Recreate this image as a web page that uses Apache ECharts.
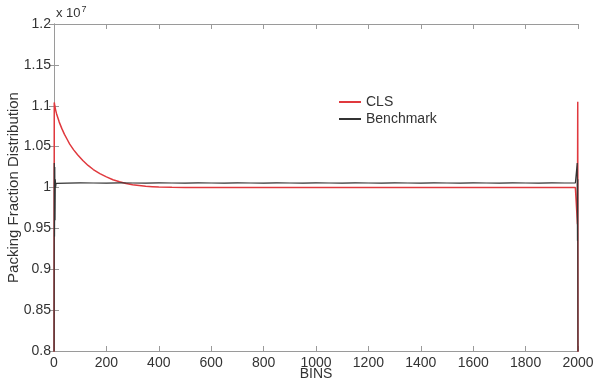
<!DOCTYPE html>
<html>
<head>
<meta charset="utf-8">
<script src="https://cdn.jsdelivr.net/npm/echarts@6/dist/echarts.min.js"></script>
<style>html,body{margin:0;padding:0;background:#fff;}#c{width:595px;height:381px;}</style>
</head>
<body>
<div id="c"></div>
<script>
// Bin positions and values (values in units of 1e7)
var clsBins = [0, 1, 3, 6, 10, 15, 20, 30, 40, 50, 60, 75, 90, 110, 130, 150, 175, 200, 225, 250, 275, 300, 325, 350, 375, 400, 450, 500, 600, 700, 800, 900, 1000, 1100, 1200, 1300, 1400, 1500, 1600, 1700, 1800, 1900, 1990, 1995, 1997, 1998, 1999, 2000];
var clsValues = [0.75, 1.104, 1.100, 1.095, 1.090, 1.085, 1.080, 1.072, 1.065, 1.059, 1.053, 1.046, 1.040, 1.033, 1.027, 1.022, 1.017, 1.013, 1.0095, 1.007, 1.005, 1.0035, 1.0025, 1.0015, 1.001, 1.0005, 1.0002, 1.0001, 1.0000, 1.0001, 0.9999, 1.0000, 1.0001, 1.0000, 0.9999, 1.0000, 1.0001, 1.0000, 0.9999, 1.0000, 1.0001, 1.0000, 0.9999, 0.999, 0.998, 0.955, 1.105, 0.75];

var benchBins = [0, 1, 2, 3, 4, 5, 6, 8, 10, 50, 100, 150, 200, 250, 300, 350, 400, 450, 500, 550, 600, 650, 700, 750, 800, 850, 900, 950, 1000, 1050, 1100, 1150, 1200, 1250, 1300, 1350, 1400, 1450, 1500, 1550, 1600, 1650, 1700, 1750, 1800, 1850, 1900, 1950, 1990, 1996, 1997, 1998, 1999, 2000];
var benchValues = [0.75, 1.03, 0.94, 1.025, 0.96, 1.01, 1.0, 1.005, 1.0055, 1.0054, 1.0056, 1.0055, 1.0054, 1.0056, 1.0055, 1.0054, 1.0056, 1.0055, 1.0054, 1.0056, 1.0055, 1.0054, 1.0056, 1.0055, 1.0054, 1.0056, 1.0055, 1.0054, 1.0056, 1.0055, 1.0054, 1.0056, 1.0055, 1.0054, 1.0056, 1.0055, 1.0054, 1.0056, 1.0055, 1.0054, 1.0056, 1.0055, 1.0054, 1.0056, 1.0055, 1.0054, 1.0056, 1.0055, 1.0055, 1.006, 1.03, 0.935, 1.01, 0.75];

var scale = 1e7;
var yTickLabels = ['0.8', '0.85', '0.9', '0.95', '1', '1.05', '1.1', '1.15', '1.2'];

function pairs(b, v) { return b.map(function (x, i) { return [x, v[i] * scale]; }); }

var chart = echarts.init(document.getElementById('c'), null, {renderer: 'canvas'});
var axisColor = '#9a9a9a';
var txt = '#333';
var font = 'Liberation Sans, Arial, sans-serif';
var yLabelMap = {};
yTickLabels.forEach(function (s) { yLabelMap[Math.round(parseFloat(s) * 100)] = s; });
var red = '#e0393e', dark = '#333';

chart.setOption({
  animation: false,
  backgroundColor: '#fff',
  grid: {left: 54, right: 17, top: 24, bottom: 30, show: false, containLabel: false, outerBoundsMode: 'none'},
  legend: {
    orient: 'vertical', left: 334, top: 90, itemGap: 3, itemWidth: 22, itemHeight: 2,
    icon: 'rect',
    textStyle: {fontFamily: font, fontSize: 14, color: txt},
    data: [{name: 'CLS', icon: 'rect', itemStyle: {color: red}}, {name: 'Benchmark', icon: 'rect', itemStyle: {color: dark}}]
  },
  xAxis: [{
    type: 'value', min: 0, max: 2000, interval: 200,
    name: 'BINS', nameLocation: 'middle', nameGap: 16, nameMoveOverlap: false,
    nameTextStyle: {fontFamily: font, fontSize: 14, color: txt},
    axisLine: {show: true, lineStyle: {color: axisColor, width: 1}},
    axisTick: {show: true, inside: true, length: 5, lineStyle: {color: axisColor}},
    axisLabel: {fontFamily: font, fontSize: 14, color: txt, margin: 5,
      formatter: function (v) { return String(v); }},
    splitLine: {show: false}
  }, {
    type: 'value', min: 0, max: 2000, interval: 200, position: 'top',
    axisLine: {show: true, lineStyle: {color: axisColor, width: 1}},
    axisTick: {show: true, inside: true, length: 5, lineStyle: {color: axisColor}},
    axisLabel: {show: false}, splitLine: {show: false}
  }],
  yAxis: [{
    type: 'value', min: 0.8 * scale, max: 1.2 * scale, interval: 0.05 * scale,
    name: 'Packing Fraction Distribution', nameLocation: 'middle', nameGap: 33, nameMoveOverlap: false,
    nameTextStyle: {fontFamily: font, fontSize: 15, color: txt},
    axisLine: {show: true, lineStyle: {color: axisColor, width: 1}},
    axisTick: {show: true, inside: true, length: 5, lineStyle: {color: axisColor}},
    axisLabel: {fontFamily: font, fontSize: 14, color: txt, margin: 3,
      formatter: function (v) { return yLabelMap[Math.round(v / scale * 100)] || ''; }},
    splitLine: {show: false}
  }, {
    type: 'value', min: 0.8 * scale, max: 1.2 * scale, interval: 0.05 * scale, position: 'right',
    axisLine: {show: true, lineStyle: {color: axisColor, width: 1}},
    axisTick: {show: true, inside: true, length: 5, lineStyle: {color: axisColor}},
    axisLabel: {show: false}, splitLine: {show: false}
  }],
  graphic: [{
    type: 'text', left: 56, top: 5,
    style: {
      text: '{a|x 10}{b|7}',
      rich: {
        a: {fontFamily: font, fontSize: 13, fill: txt},
        b: {fontFamily: font, fontSize: 9, fill: txt, verticalAlign: 'top', padding: [0, 0, 8, 1]}
      }
    }
  }],
  series: [{
    name: 'CLS', type: 'line', showSymbol: false, symbol: 'none', clip: true,
    data: pairs(clsBins, clsValues),
    lineStyle: {color: red, width: 1.5}, itemStyle: {color: red}
  }, {
    name: 'Benchmark', type: 'line', showSymbol: false, symbol: 'none', clip: true,
    data: pairs(benchBins, benchValues),
    lineStyle: {color: dark, width: 1.2}, itemStyle: {color: dark}
  }]
});
</script>
</body>
</html>
